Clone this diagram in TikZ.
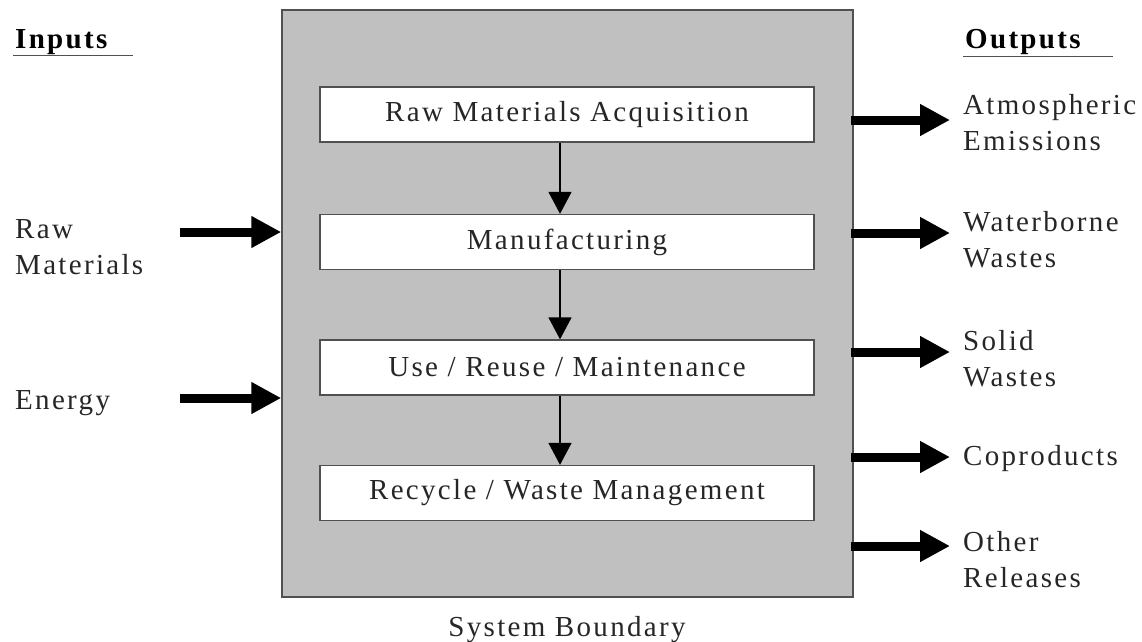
\documentclass[tikz,border=0pt]{standalone}
\usepackage{fontspec}
\setmainfont[LetterSpace=8]{Liberation Serif}
\usetikzlibrary{arrows.meta,calc}
\definecolor{boundgray}{RGB}{192,192,192}
\definecolor{edgegray}{RGB}{80,80,80}
\tikzset{
  txt/.style={font=\fontsize{29}{36}\selectfont, inner sep=0pt, text=black!85},
  hdr/.style={font=\fontsize{29}{36}\selectfont\bfseries, inner sep=0pt, anchor=base west},
  stage/.style={draw=edgegray, line width=1.3pt, fill=white, minimum width=494pt, minimum height=55pt, inner sep=0pt, font=\fontsize{29}{36}\selectfont, text=black!85},
  flow/.style={line width=1.3pt, -{Triangle[length=22pt,width=23pt]}},
  bigarrow/.style={line width=9pt, -{Triangle[length=30pt,width=30pt]}},
  lab/.style={txt, anchor=west, align=left},
}
\begin{document}
\begin{tikzpicture}[x=1pt,y=-1pt]
\useasboundingbox (0,0) rectangle (1142,641);
% system boundary
\node[draw=edgegray, line width=1.5pt, fill=boundgray, minimum width=571pt, minimum height=587pt, inner sep=0pt] (sys) at (567.5,303.5) {};
\node[txt, anchor=base] (sb) at (567,636) {System Boundary};
% stages
\node[stage] (b1) at (567,114.5) {Raw Materials Acquisition};
\node[stage] (b2) at (567,242) {Manufacturing};
\node[stage] (b3) at (567,367.5) {Use / Reuse / Maintenance};
\node[stage] (b4) at (567,493) {Recycle / Waste Management};
\draw[flow] ([xshift=-7pt]b1.south) -- ([xshift=-7pt]b2.north);
\draw[flow] ([xshift=-7pt]b2.south) -- ([xshift=-7pt]b3.north);
\draw[flow] ([xshift=-7pt]b3.south) -- ([xshift=-7pt]b4.north);
% headers
\node[hdr] (inp) at (15,48) {Inputs};
\draw[line width=1.5pt, edgegray] (13,55.5) -- (133,55.5);
\node[hdr] (outp) at (965,48) {Outputs};
\draw[line width=1.5pt, edgegray] (963,56.5) -- (1113,56.5);
% inputs
\node[lab] (rm) at (15,247) {Raw\\Materials};
\node[lab] (en) at (15,403) {Energy};
\coordinate (i1) at (180,232);
\coordinate (i2) at (180,398);
\draw[bigarrow] (i1) -- (i1 -| sys.west);
\draw[bigarrow] (i2) -- (i2 -| sys.west);
% outputs
\node[lab] (o1) at (963,123) {Atmospheric\\Emissions};
\node[lab] (o2) at (963,240) {Waterborne\\Wastes};
\node[lab] (o3) at (963,359) {Solid\\Wastes};
\node[lab] (o4) at (963,459) {Coproducts};
\node[lab] (o5) at (963,560) {Other\\Releases};
\foreach \i/\y in {1/120,2/233,3/352,4/457,5/546}{
  \coordinate (e\i) at (851,\y);
  \coordinate (t\i) at (950,\y);
  \draw[bigarrow] (e\i) -- (t\i);
}
\end{tikzpicture}
\end{document}
